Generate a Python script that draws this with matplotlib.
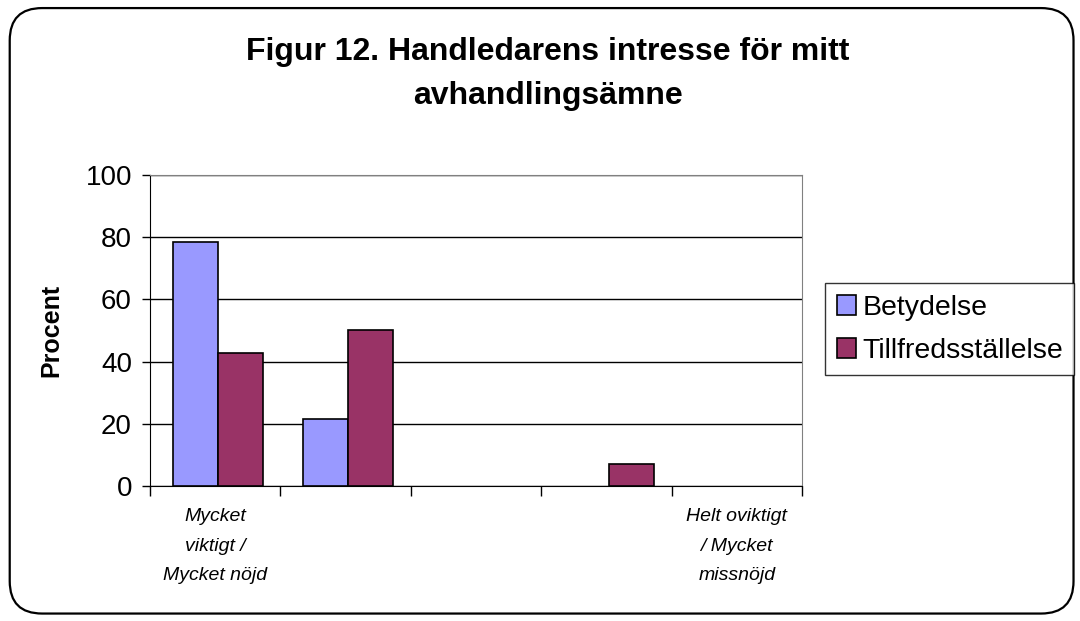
import matplotlib
matplotlib.use('Agg')
import matplotlib.pyplot as plt
import numpy as np
from matplotlib.patches import FancyBboxPatch

plt.rcParams['font.family'] = ['Liberation Sans', 'DejaVu Sans']

# data (percent, n=14)
categories = ['Mycket\nviktigt /\nMycket nöjd', '', '', '', 'Helt oviktigt\n/ Mycket\nmissnöjd']
betydelse = [78.6, 21.4, 0, 0, 0]
tillfreds = [42.9, 50.0, 0, 7.1, 0]
series_names = ['Betydelse', 'Tillfredsställelse']

fig = plt.figure(figsize=(10.8, 6.21), dpi=100)

# rounded chart border
border = FancyBboxPatch((0.009, 0.012), 0.985, 0.975, boxstyle='round,pad=0,rounding_size=0.03',
                        transform=fig.transFigure, facecolor='none', edgecolor='black',
                        linewidth=1.6, mutation_aspect=1080 / 621, zorder=5)
fig.patches.append(border)

ax = fig.add_axes([0.1389, 0.2174, 0.6037, 0.5008])
x = np.arange(len(categories))
w = 0.345
off = 0.02
# zero-height bars get no outline
edge_b = ['black' if v > 0 else 'none' for v in betydelse]
edge_t = ['black' if v > 0 else 'none' for v in tillfreds]
ax.bar(x - w / 2 + off, betydelse, w, color='#9999FF', edgecolor=edge_b, linewidth=1.2,
       label=series_names[0], zorder=3)
ax.bar(x + w / 2 + off, tillfreds, w, color='#993366', edgecolor=edge_t, linewidth=1.2,
       label=series_names[1], zorder=3)

ax.set_xlim(-0.5, len(categories) - 0.5)
ax.set_ylim(0, 100)
ax.set_yticks(np.arange(0, 101, 20))
ax.yaxis.grid(True, color='black', linewidth=1)
ax.set_axisbelow(True)
ax.tick_params(axis='y', labelsize=20, length=6, width=1, direction='out', pad=7)

ax.set_xticks(np.arange(len(categories) + 1) - 0.5)
ax.set_xticklabels([])
ax.set_xticks(x, minor=True)
ax.set_xticklabels(categories, minor=True, fontsize=14, style='italic', linespacing=1.95)
ax.tick_params(axis='x', which='major', length=7, width=1, direction='out')
ax.tick_params(axis='x', which='minor', length=0, pad=16)

ax.spines['top'].set_color('#808080')
ax.spines['right'].set_color('#808080')
ax.spines['left'].set_color('black')
ax.spines['bottom'].set_color('black')

ax.set_ylabel('Procent', fontsize=18, fontweight='bold', labelpad=16)

fig.text(0.507, 0.917, 'Figur 12. Handledarens intresse för mitt', ha='center', va='center',
         fontsize=23, fontweight='bold')
fig.text(0.507, 0.846, 'avhandlingsämne', ha='center', va='center',
         fontsize=23, fontweight='bold')

leg = fig.legend(loc='center left', bbox_to_anchor=(0.764, 0.47), fontsize=20.5,
                 frameon=True, fancybox=False, edgecolor='black', handlelength=0.7,
                 handleheight=0.7, handletextpad=0.2, borderpad=0.4, labelspacing=0.6,
                 borderaxespad=0)
leg.get_frame().set_linewidth(1)

fig.savefig('out.png', dpi=100)
